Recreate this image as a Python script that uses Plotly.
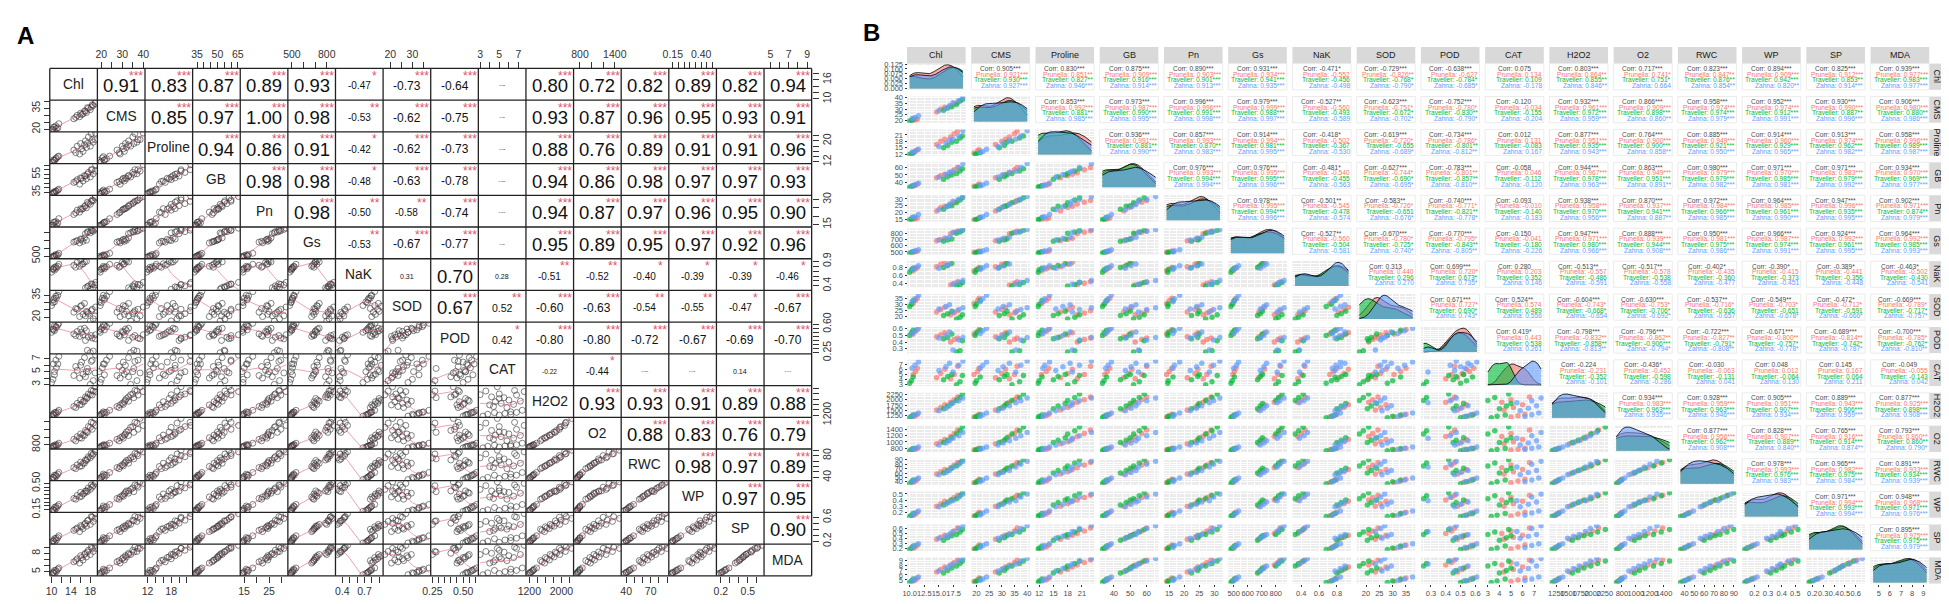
import numpy as np
import plotly.graph_objects as go

W, H = 1949, 604

variables = ["Chl", "CMS", "Proline", "GB", "Pn", "Gs", "NaK", "SOD",
             "POD", "CAT", "H2O2", "O2", "RWC", "WP", "SP", "MDA"]
groups = ["Prunella", "Traveller", "Zahna"]
group_colors = ["#F8766D", "#00BA38", "#619CFF"]
group_fills = ["rgba(248,118,109,0.6)", "rgba(0,186,56,0.6)", "rgba(97,156,255,0.6)"]

# 27 samples: 9 per cultivar (3 levels x 3 reps)
cultivar = ["Prunella"] * 9 + ["Traveller"] * 9 + ["Zahna"] * 9
Chl = [10.6, 11.0, 11.3, 14.6, 15.3, 16.0, 17.0, 17.6, 18.2,
       10.0, 10.3, 10.6, 15.8, 16.5, 17.2, 18.0, 18.6, 19.0,
       10.4, 10.9, 11.5, 15.0, 16.2, 16.8, 17.4, 18.4, 19.1]
CMS = [19.0, 20.5, 21.0, 27.5, 30.0, 31.5, 33.0, 35.0, 36.0,
       19.5, 20.0, 21.5, 29.0, 31.0, 32.0, 34.0, 37.0, 38.5,
       21.5, 22.5, 24.0, 28.5, 30.5, 33.0, 35.5, 37.5, 40.0]
Proline = [12.5, 13.5, 14.0, 16.5, 18.0, 19.0, 20.0, 21.5, 22.8,
           11.8, 12.0, 12.6, 15.0, 16.0, 17.5, 18.0, 19.5, 20.5,
           12.8, 13.2, 14.2, 15.5, 17.0, 18.5, 19.0, 20.5, 23.0]
GB = [34.5, 36.0, 37.5, 46.0, 49.0, 51.0, 53.0, 57.0, 60.0,
      33.0, 34.0, 35.5, 44.0, 47.5, 50.0, 52.0, 55.5, 58.5,
      35.0, 36.5, 38.5, 47.0, 50.5, 53.5, 55.0, 60.0, 65.5]
Pn = [14.2, 15.1, 15.9, 21.0, 23.6, 24.5, 26.3, 27.5, 28.9,
      14.6, 14.7, 16.3, 22.4, 24.5, 25.0, 27.1, 29.2, 30.9,
      16.3, 16.8, 18.5, 22.0, 24.1, 25.8, 28.3, 29.7, 31.8]
Gs = [495, 505, 515, 680, 700, 720, 790, 815, 835,
      480, 490, 505, 670, 690, 705, 800, 820, 845,
      500, 520, 535, 690, 715, 735, 810, 830, 860]
NaK = [0.72, 0.76, 0.80, 0.82, 0.88, 0.93, 0.36, 0.40, 0.44,
       0.68, 0.74, 0.78, 0.80, 0.85, 0.90, 0.33, 0.37, 0.42,
       0.75, 0.79, 0.84, 0.78, 0.84, 0.89, 0.38, 0.43, 0.47]
SOD = [30.5, 33.0, 35.0, 23.5, 25.5, 27.5, 21.0, 22.5, 24.5,
       28.0, 30.0, 33.0, 20.5, 22.0, 24.0, 17.5, 19.0, 21.0,
       32.0, 34.5, 37.5, 26.0, 28.0, 29.5, 23.5, 25.5, 27.0]
POD = [0.52, 0.56, 0.59, 0.48, 0.51, 0.54, 0.40, 0.44, 0.46,
       0.50, 0.54, 0.58, 0.45, 0.47, 0.52, 0.25, 0.27, 0.42,
       0.53, 0.57, 0.61, 0.46, 0.50, 0.55, 0.28, 0.43, 0.47]
CAT = [5.0, 5.6, 6.2, 4.4, 5.2, 6.0, 4.2, 5.0, 6.6,
       3.3, 3.8, 4.5, 4.0, 4.6, 5.0, 3.0, 3.6, 4.8,
       6.2, 6.8, 7.4, 5.8, 6.5, 7.2, 5.5, 6.8, 7.6]
H2O2 = [1200, 1260, 1320, 1520, 1640, 1760, 1880, 1990, 2120,
        1160, 1230, 1290, 1580, 1700, 1820, 1960, 2100, 2260,
        1220, 1300, 1380, 1480, 1600, 1720, 1850, 1950, 2080]
O2 = [740, 770, 800, 940, 1010, 1080, 1170, 1270, 1380,
      720, 760, 790, 980, 1050, 1130, 1250, 1360, 1480,
      760, 800, 840, 900, 970, 1040, 1120, 1200, 1300]
RWC = [38, 42, 46, 58, 63, 68, 72, 78, 84,
       36, 40, 44, 60, 66, 71, 76, 83, 90,
       40, 44, 49, 56, 61, 66, 74, 80, 87]
WP = [0.14, 0.17, 0.20, 0.30, 0.34, 0.38, 0.40, 0.44, 0.48,
      0.13, 0.15, 0.18, 0.32, 0.36, 0.40, 0.42, 0.47, 0.52,
      0.15, 0.19, 0.22, 0.29, 0.33, 0.37, 0.39, 0.45, 0.50]
SP = [0.18, 0.22, 0.26, 0.38, 0.42, 0.46, 0.50, 0.55, 0.61,
      0.17, 0.20, 0.24, 0.36, 0.41, 0.45, 0.48, 0.53, 0.58,
      0.21, 0.25, 0.29, 0.40, 0.44, 0.48, 0.54, 0.60, 0.66]
MDA = [4.7, 5.0, 5.4, 6.6, 7.1, 7.6, 8.0, 8.5, 9.0,
       4.5, 4.8, 5.2, 6.4, 6.9, 7.4, 7.8, 8.3, 8.8,
       4.9, 5.2, 5.6, 6.8, 7.3, 7.8, 8.2, 8.8, 9.3]

# correlations printed in panel A (upper triangle, row by row)
corr_a = [
    0.91, 0.83, 0.87, 0.89, 0.93, -0.47, -0.73, -0.64, 0.075, 0.80, 0.72, 0.82, 0.89, 0.82, 0.94,
    0.85, 0.97, 1.00, 0.98, -0.53, -0.62, -0.75, -0.12, 0.93, 0.87, 0.96, 0.95, 0.93, 0.91,
    0.94, 0.86, 0.91, -0.42, -0.62, -0.73, 0.012, 0.88, 0.76, 0.89, 0.91, 0.91, 0.96,
    0.98, 0.98, -0.48, -0.63, -0.78, -0.058, 0.94, 0.86, 0.98, 0.97, 0.97, 0.93,
    0.98, -0.50, -0.58, -0.74, -0.093, 0.94, 0.87, 0.97, 0.96, 0.95, 0.90,
    -0.53, -0.67, -0.77, -0.15, 0.95, 0.89, 0.95, 0.97, 0.92, 0.96,
    0.31, 0.70, 0.28, -0.51, -0.52, -0.40, -0.39, -0.39, -0.46,
    0.67, 0.52, -0.60, -0.63, -0.54, -0.55, -0.47, -0.67,
    0.42, -0.80, -0.80, -0.72, -0.67, -0.69, -0.70,
    -0.22, -0.44, -0.030, 0.048, 0.14, -0.049,
    0.93, 0.93, 0.91, 0.89, 0.88,
    0.88, 0.83, 0.76, 0.79,
    0.98, 0.97, 0.89,
    0.97, 0.95,
    0.90]

# correlations printed in panel B: overall and per cultivar
corr_b = [
    0.905, 0.830, 0.875, 0.890, 0.931, -0.471, -0.729, -0.638, 0.075, 0.803, 0.717, 0.823, 0.894, 0.825, 0.939,
    0.853, 0.973, 0.996, 0.979, -0.527, -0.623, -0.752, -0.120, 0.932, 0.866, 0.958, 0.952, 0.930, 0.906,
    0.936, 0.857, 0.914, -0.418, -0.619, -0.734, 0.012, 0.877, 0.764, 0.885, 0.914, 0.913, 0.958,
    0.976, 0.976, -0.481, -0.627, -0.783, -0.058, 0.944, 0.863, 0.980, 0.971, 0.971, 0.934,
    0.978, -0.501, -0.583, -0.740, -0.093, 0.938, 0.870, 0.972, 0.964, 0.947, 0.902,
    -0.527, -0.670, -0.770, -0.150, 0.947, 0.888, 0.950, 0.966, 0.924, 0.964,
    0.313, 0.699, 0.280, -0.513, -0.517, -0.402, -0.390, -0.389, -0.463,
    0.671, 0.524, -0.604, -0.630, -0.537, -0.549, -0.472, -0.669,
    0.419, -0.798, -0.796, -0.722, -0.671, -0.689, -0.700,
    -0.224, -0.436, -0.030, 0.048, 0.145, -0.049,
    0.934, 0.928, 0.905, 0.889, 0.877,
    0.877, 0.828, 0.765, 0.793,
    0.978, 0.965, 0.891,
    0.971, 0.948,
    0.895]
corr_pru = [
    0.921, 0.851, 0.909, 0.903, 0.934, -0.552, -0.826, -0.627, 0.134, 0.864, 0.741, 0.847, 0.909, 0.912, 0.977,
    0.992, 0.987, 0.996, 0.999, -0.560, -0.751, -0.780, -0.034, 0.961, 0.909, 0.974, 0.974, 0.990, 0.980,
    0.991, 0.993, 0.994, -0.502, -0.720, -0.786, 0.131, 0.951, 0.900, 0.949, 0.960, 0.974, 0.996,
    0.993, 0.995, -0.540, -0.744, -0.801, 0.046, 0.967, 0.949, 0.979, 0.970, 0.983, 0.970,
    0.995, -0.545, -0.726, -0.771, -0.010, 0.958, 0.937, 0.984, 0.985, 0.996, 0.971,
    -0.560, -0.780, -0.795, -0.041, 0.971, 0.939, 0.981, 0.987, 0.992, 0.992,
    0.440, 0.720, 0.203, -0.557, -0.578, -0.435, -0.415, -0.441, -0.502,
    0.727, 0.574, -0.743, -0.753, -0.716, -0.703, -0.712, -0.789,
    0.443, -0.832, -0.862, -0.827, -0.800, -0.814, -0.785,
    -0.231, -0.452, -0.063, 0.012, 0.167, -0.055,
    0.983, 0.959, 0.951, 0.943, 0.925,
    0.956, 0.907, 0.916, 0.860,
    0.993, 0.982, 0.933,
    0.994, 0.968,
    0.975]
corr_tra = [
    0.930, 0.827, 0.916, 0.901, 0.941, -0.456, -0.768, -0.784, 0.109, 0.855, 0.751, 0.876, 0.942, 0.853, 0.983,
    0.881, 0.990, 0.991, 0.988, -0.493, -0.672, -0.830, -0.155, 0.972, 0.898, 0.974, 0.912, 0.887, 0.880,
    0.881, 0.870, 0.981, -0.367, -0.655, -0.801, -0.083, 0.935, 0.900, 0.921, 0.929, 0.962, 0.989,
    0.994, 0.995, -0.455, -0.690, -0.857, -0.112, 0.978, 0.951, 0.979, 0.985, 0.979, 0.969,
    0.994, -0.478, -0.651, -0.821, -0.140, 0.970, 0.941, 0.966, 0.961, 0.935, 0.874,
    -0.504, -0.725, -0.843, -0.180, 0.980, 0.944, 0.975, 0.974, 0.961, 0.985,
    0.296, 0.673, 0.352, -0.486, -0.538, -0.360, -0.373, -0.356, -0.430,
    0.690, 0.489, -0.668, -0.706, -0.636, -0.651, -0.591, -0.717,
    0.538, -0.858, -0.906, -0.791, -0.757, -0.742, -0.762,
    -0.352, -0.598, -0.131, -0.064, 0.064, -0.143,
    0.963, 0.963, 0.907, 0.906, 0.898,
    0.962, 0.889, 0.914, 0.860,
    0.976, 0.975, 0.934,
    0.993, 0.971,
    0.975]
corr_zah = [
    0.927, 0.946, 0.914, 0.913, 0.935, -0.498, -0.790, -0.685, -0.178, 0.846, 0.664, 0.854, 0.820, 0.914, 0.977,
    0.985, 0.995, 0.998, 0.997, -0.589, -0.702, -0.790, -0.204, 0.959, 0.860, 0.979, 0.991, 0.996, 0.986,
    0.990, 0.983, 0.995, -0.530, -0.689, -0.812, 0.167, 0.943, 0.858, 0.950, 0.965, 0.982, 0.987,
    0.994, 0.996, -0.563, -0.695, -0.810, -0.120, 0.963, 0.891, 0.982, 0.981, 0.992, 0.977,
    0.996, -0.574, -0.676, -0.778, -0.183, 0.956, 0.887, 0.985, 0.990, 0.995, 0.979,
    -0.581, -0.740, -0.805, -0.226, 0.966, 0.908, 0.986, 0.991, 0.995, 0.993,
    0.270, 0.735, 0.146, -0.591, -0.558, -0.477, -0.451, -0.448, -0.541,
    0.743, 0.556, -0.654, -0.692, -0.657, -0.678, -0.666, -0.757,
    0.261, -0.813, -0.794, -0.808, -0.778, -0.787, -0.810,
    -0.101, -0.286, 0.041, 0.130, 0.211, 0.042,
    0.935, 0.946, 0.934, 0.959, 0.908,
    0.908, 0.840, 0.874, 0.790,
    0.983, 0.984, 0.939,
    0.994, 0.976,
    0.979]

# panel A tick positions and the labels R kept on the outer axes
a_ticks = [
    [10, 12, 14, 16, 18], [20, 25, 30, 35, 40], [12, 14, 16, 18, 20, 22],
    [35, 40, 45, 50, 55, 60, 65], [15, 20, 25, 30], [500, 600, 700, 800],
    [0.4, 0.5, 0.6, 0.7, 0.8, 0.9], [20, 25, 30, 35],
    [0.25, 0.30, 0.35, 0.40, 0.45, 0.50, 0.55, 0.60], [3, 4, 5, 6, 7],
    [1200, 1400, 1600, 1800, 2000, 2200], [800, 1000, 1200, 1400],
    [40, 50, 60, 70, 80, 90], [0.15, 0.20, 0.25, 0.30, 0.35, 0.40, 0.45, 0.50],
    [0.2, 0.3, 0.4, 0.5, 0.6], [5, 6, 7, 8, 9]]
a_col_labels = [
    ["10", "", "14", "", "18"], ["20", "", "30", "", "40"], ["12", "", "", "18", "", ""],
    ["35", "", "", "50", "", "", "65"], ["15", "", "25", ""], ["500", "", "", "800"],
    ["0.4", "", "", "0.7", "", ""], ["20", "", "30", ""],
    ["0.25", "", "", "", "", "0.50", "", ""], ["3", "", "5", "", "7"],
    ["1200", "", "", "", "2000", ""], ["800", "", "", "1400"],
    ["40", "", "", "70", "", ""], ["0.15", "", "", "", "", "0.40", "", ""],
    ["0.2", "", "", "0.5", ""], ["5", "", "7", "", "9"]]
a_row_labels = [
    ["10", "", "", "16", ""], ["20", "", "", "35", ""], ["12", "", "", "", "20", ""],
    ["35", "", "", "", "55", "", ""], ["15", "", "", "30"], ["500", "", "", ""],
    ["0.4", "", "", "", "", "0.9"], ["20", "", "", "35"],
    ["0.25", "", "", "", "", "", "", "0.60"], ["3", "", "5", "", "7"],
    ["1200", "", "", "", "", ""], ["800", "", "", ""],
    ["40", "", "", "", "80", ""], ["0.15", "", "", "", "", "", "", "0.50"],
    ["0.2", "", "", "", "0.6"], ["5", "", "", "8", ""]]

# panel B (ggplot) breaks
b_tick0 = [10, 20, 12, 40, 15, 500, 0.4, 20, 0.3, 3, 1250, 800, 40, 0.2, 0.2, 5]
b_dtick = [2.5, 5, 3, 10, 5, 100, 0.2, 5, 0.1, 1, 250, 200, 10, 0.1, 0.1, 1]
b_fmt = [".1f", "d", "d", "d", "d", "d", ".1f", "d", ".1f", "d", "d", "d", "d", ".1f", ".1f", "d"]

data = np.array([Chl, CMS, Proline, GB, Pn, Gs, NaK, SOD, POD, CAT,
                 H2O2, O2, RWC, WP, SP, MDA], dtype=float)
cult = np.array(cultivar)
NV = len(variables)
pairs = [(i, j) for i in range(NV) for j in range(i + 1, NV)]
assert len(corr_a) == len(corr_b) == len(corr_pru) == len(corr_tra) == len(corr_zah) == len(pairs)

crit27 = (0.381, 0.487, 0.597)   # |r| for p<.05/.01/.001, n=27
crit9 = (0.666, 0.798, 0.898)    # n=9


def stars(r, crit):
    a = abs(r)
    return "***" if a >= crit[2] else "**" if a >= crit[1] else "*" if a >= crit[0] else ""


def px(x):
    return x / W


def py(y):
    return 1 - y / H


def axkey(p, k):
    return p + "axis" + ("" if k == 1 else str(k))


def axref(p, k):
    return p + ("" if k == 1 else str(k))


def note(x, y, text, size, color, xanchor="center", yanchor="middle", **kw):
    return dict(x=px(x), y=py(y), xref="paper", yref="paper", text=text, showarrow=False,
                xanchor=xanchor, yanchor=yanchor, borderpad=0,
                font=dict(size=size, color=color), **kw)


def lowess(x, y, f=2 / 3, iters=3):
    order = np.argsort(x, kind="mergesort")
    x = np.asarray(x, float)[order]
    y = np.asarray(y, float)[order]
    n = len(x)
    r = max(2, int(np.ceil(f * n)))
    rob = np.ones(n)
    fit = y.copy()
    for _ in range(iters + 1):
        for i in range(n):
            d = np.abs(x - x[i])
            h = max(np.sort(d)[r - 1], 1e-9)
            u = np.clip(d / h, 0, 1)
            w = (1 - u ** 3) ** 3 * rob
            sw = w.sum()
            if sw <= 0:
                fit[i] = y[i]
                continue
            xm = (w * x).sum() / sw
            ym = (w * y).sum() / sw
            sxx = (w * (x - xm) ** 2).sum()
            b = (w * (x - xm) * (y - ym)).sum() / sxx if sxx > 1e-12 else 0.0
            fit[i] = ym + b * (x[i] - xm)
        res = y - fit
        s = np.median(np.abs(res))
        if s <= 1e-12:
            break
        u = np.clip(res / (6 * s), -1, 1)
        rob = (1 - u ** 2) ** 2
    return x, fit


def kde(v, grid):
    v = np.asarray(v, float)
    n = len(v)
    sd = v.std(ddof=1)
    q75, q25 = np.percentile(v, [75, 25])
    lo = min(sd, (q75 - q25) / 1.34) if q75 > q25 else sd
    bw = 0.9 * lo * n ** -0.2
    z = (grid[:, None] - v[None, :]) / bw
    return np.exp(-0.5 * z ** 2).sum(axis=1) / (n * bw * np.sqrt(2 * np.pi))


def a_font(r):
    a = abs(r)
    if r >= 0:
        return 18.5 if a >= 0.6 else 10.5 if a >= 0.38 else 7 if a >= 0.13 else 2.5
    return 12 if a >= 0.6 else 10 if a >= 0.38 else 6.6 if a >= 0.2 else 2.5


FONT = "Liberation Sans, Arial, sans-serif"
layout = dict(width=W, height=H, margin=dict(l=0, r=0, t=0, b=0),
              paper_bgcolor="white", plot_bgcolor="white", showlegend=False,
              font=dict(family=FONT))
traces = []
shapes = []
annotations = []

# ---------------- panel A : pairs() with correlations ----------------
AX0, AX1, AY0, AY1 = 34, 801, 52, 575
ACW = (AX1 - AX0) / NV
ACH = (AY1 - AY0) / NV
for k in range(NV):
    lo, hi = data[k].min(), data[k].max()
    pad = 0.04 * (hi - lo)
    top = k % 2 == 1
    layout[axkey("x", k + 1)] = dict(
        domain=[px(AX0 + k * ACW), px(AX0 + (k + 1) * ACW)], range=[lo - pad, hi + pad],
        anchor="free", position=py(AY0) if top else py(AY1), side="top" if top else "bottom",
        tickmode="array", tickvals=a_ticks[k], ticktext=a_col_labels[k], tickangle=0,
        ticks="outside", ticklen=6, tickcolor="#333", tickfont=dict(size=10.5, color="#333"),
        showgrid=False, zeroline=False, showline=False, fixedrange=True)
    right = k % 2 == 0
    layout[axkey("y", k + 1)] = dict(
        domain=[py(AY0 + (k + 1) * ACH), py(AY0 + k * ACH)], range=[lo - pad, hi + pad],
        anchor="free", position=px(AX1) if right else px(AX0), side="right" if right else "left",
        tickmode="array", tickvals=a_ticks[k], ticktext=a_row_labels[k], tickangle=-90,
        ticks="outside", ticklen=6, tickcolor="#333", tickfont=dict(size=10.5, color="#333"),
        showgrid=False, zeroline=False, showline=False, fixedrange=True)

for i in range(NV):
    traces.append(go.Scatter(x=[], y=[], xaxis=axref("x", i + 1), yaxis=axref("y", i + 1),
                             hoverinfo="skip"))
    annotations.append(note(AX0 + (i + 0.5) * ACW, AY0 + (i + 0.5) * ACH, variables[i],
                            13.8, "#222"))
    for j in range(i):
        traces.append(go.Scatter(
            x=data[j], y=data[i], mode="markers", xaxis=axref("x", j + 1), yaxis=axref("y", i + 1),
            marker=dict(symbol="circle-open", size=6, color="#333", line=dict(width=0.6)),
            hoverinfo="skip"))
        lx, ly = lowess(data[j], data[i])
        traces.append(go.Scatter(
            x=lx, y=ly, mode="lines", xaxis=axref("x", j + 1), yaxis=axref("y", i + 1),
            line=dict(color="#DF536B", width=0.9), opacity=0.6, hoverinfo="skip"))

for k, (i, j) in enumerate(pairs):
    r = corr_a[k]
    txt = f"{r:.3f}" if abs(r) < 0.1 else f"{r:.2f}"
    annotations.append(note(AX0 + (j + 0.5) * ACW, AY0 + (i + 0.55) * ACH, txt,
                            a_font(r), "#111"))
    s = stars(r, crit27)
    if s:
        annotations.append(note(AX0 + (j + 0.82) * ACW, AY0 + (i + 0.24) * ACH, s,
                                12, "#DF536B"))

for k in range(NV + 1):
    xx = px(AX0 + k * ACW)
    yy = py(AY0 + k * ACH)
    shapes.append(dict(type="line", xref="paper", yref="paper", x0=xx, x1=xx,
                       y0=py(AY0), y1=py(AY1), line=dict(color="#222", width=1.3), layer="above"))
    shapes.append(dict(type="line", xref="paper", yref="paper", x0=px(AX0), x1=px(AX1),
                       y0=yy, y1=yy, line=dict(color="#222", width=1.3), layer="above"))

# ---------------- panel B : ggpairs by cultivar ----------------
BX0, BPX, BCW = 897, 64.67, 59
BY0, BPY, BCH = 47, 33.93, 27
B_BOTTOM = BY0 + (NV - 1) * BPY + BCH
TICKF = dict(size=7.5, color="#4D4D4D")
pt_colors = [group_colors[groups.index(c)] for c in cultivar]

for k in range(NV):
    lo, hi = data[k].min(), data[k].max()
    pad = 0.05 * (hi - lo)
    x0 = BX0 + k * BPX
    y0 = BY0 + k * BPY
    common = dict(range=[lo - pad, hi + pad], anchor="free", tickmode="linear",
                  tick0=b_tick0[k], dtick=b_dtick[k], tickformat=b_fmt[k], tickangle=0,
                  ticks="outside", ticklen=2.5, tickcolor="#333", tickfont=TICKF,
                  showgrid=True, gridcolor="white", gridwidth=1,
                  minor=dict(tick0=b_tick0[k], dtick=b_dtick[k] / 2, showgrid=True,
                             gridcolor="white", gridwidth=0.5),
                  zeroline=False, showline=False, fixedrange=True)
    layout[axkey("x", 17 + k)] = dict(domain=[px(x0), px(x0 + BCW)], position=py(B_BOTTOM),
                                      side="bottom", **common)
    if k > 0:
        layout[axkey("y", 17 + k)] = dict(domain=[py(y0 + BCH), py(y0)], position=px(BX0),
                                          side="left", **common)

    # diagonal densities
    grid = np.linspace(lo, hi, 256)
    dens = [kde(data[k][cult == g], grid) for g in groups]
    m = max(d.max() for d in dens)
    dax = dict(domain=[py(y0 + BCH), py(y0)], range=[-0.05 * m, 1.05 * m], anchor="free",
               position=px(BX0), side="left", showgrid=True, gridcolor="white", gridwidth=1,
               minor=dict(showgrid=True, gridcolor="white", gridwidth=0.5), tickangle=0,
               zeroline=False, showline=False, fixedrange=True)
    if k == 0:
        dax.update(tickmode="linear", tick0=0, dtick=0.025, tickformat=".3f",
                   ticks="outside", ticklen=2.5, tickcolor="#333", tickfont=TICKF)
    else:
        dax.update(nticks=4, showticklabels=False, ticks="")
    layout[axkey("y", 33 + k)] = dax
    for g in range(3):
        traces.append(go.Scatter(x=grid, y=dens[g], mode="lines", fill="tozeroy",
                                 fillcolor=group_fills[g], line=dict(color="black", width=0.8),
                                 xaxis=axref("x", 17 + k), yaxis=axref("y", 33 + k),
                                 hoverinfo="skip"))
    shapes.append(dict(type="rect", xref="paper", yref="paper", x0=px(x0), x1=px(x0 + BCW),
                       y0=py(y0 + BCH), y1=py(y0), fillcolor="#EBEBEB", line=dict(width=0),
                       layer="below"))

    # strips
    shapes.append(dict(type="rect", xref="paper", yref="paper", x0=px(x0), x1=px(x0 + BCW),
                       y0=py(BY0), y1=py(BY0 - 17), fillcolor="#D9D9D9", line=dict(width=0),
                       layer="below"))
    annotations.append(note(x0 + BCW / 2, BY0 - 8.5, variables[k], 9, "#1A1A1A"))
    sx = BX0 + (NV - 1) * BPX + BCW
    shapes.append(dict(type="rect", xref="paper", yref="paper", x0=px(sx), x1=px(sx + 16),
                       y0=py(y0 + BCH), y1=py(y0), fillcolor="#D9D9D9", line=dict(width=0),
                       layer="below"))
    annotations.append(note(sx + 8, y0 + BCH / 2, variables[k], 9, "#1A1A1A", textangle=90))

# lower scatter cells
for i in range(1, NV):
    for j in range(i):
        x0 = BX0 + j * BPX
        y0 = BY0 + i * BPY
        traces.append(go.Scatter(x=data[j], y=data[i], mode="markers",
                                 marker=dict(size=5.5, color=pt_colors, opacity=0.7),
                                 xaxis=axref("x", 17 + j), yaxis=axref("y", 17 + i),
                                 hoverinfo="skip"))
        shapes.append(dict(type="rect", xref="paper", yref="paper", x0=px(x0), x1=px(x0 + BCW),
                           y0=py(y0 + BCH), y1=py(y0), fillcolor="#EBEBEB", line=dict(width=0),
                           layer="below"))

# upper correlation text cells
for k, (i, j) in enumerate(pairs):
    x0 = BX0 + j * BPX
    y0 = BY0 + i * BPY
    shapes.append(dict(type="rect", xref="paper", yref="paper", x0=px(x0), x1=px(x0 + BCW),
                       y0=py(y0 + BCH), y1=py(y0), fillcolor="white",
                       line=dict(color="#E2E2E2", width=0.7), layer="below"))
    rows = [("Corr: %.3f%s" % (corr_b[k], stars(corr_b[k], crit27)), "#4A4A4A", "center")]
    for g, vals in enumerate([corr_pru, corr_tra, corr_zah]):
        v = vals[k]
        rows.append(("%s: %.3f%s" % (groups[g], v, stars(v, crit9)), group_colors[g], "right"))
    for li, (txt, col, anc) in enumerate(rows):
        xx = x0 + BCW / 2 if anc == "center" else x0 + BCW - 0.5
        annotations.append(note(xx, y0 + BCH * (0.19 + 0.215 * li), txt, 6.6, col,
                                xanchor=anc))

# panel letters
annotations.append(note(0, 3, "<b>A</b>", 24, "black", xanchor="left", yanchor="top"))
annotations.append(note(852, 0, "<b>B</b>", 24, "black", xanchor="left", yanchor="top"))

layout["shapes"] = shapes
layout["annotations"] = annotations
fig = go.Figure(data=traces, layout=layout)
fig.update_traces(showlegend=False)
fig.write_html("out.html")
